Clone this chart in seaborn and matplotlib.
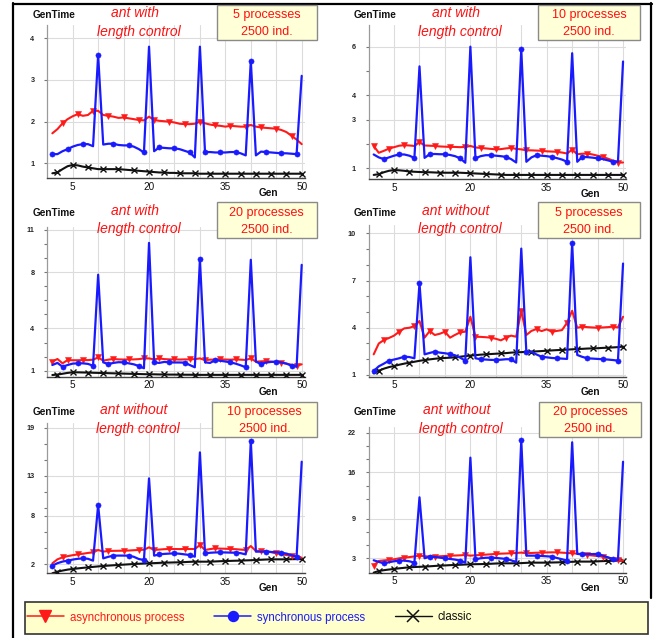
import matplotlib
matplotlib.use("Agg")
import matplotlib.pyplot as plt
import seaborn as sns
import pandas as pd
from matplotlib.lines import Line2D
from matplotlib.patches import Rectangle
from matplotlib.ticker import FixedLocator, FixedFormatter, NullFormatter

# ---------------- data ----------------
gens = list(range(1, 51))

# panel 1: ant with length control, 5 processes
async_1 = [1.72, 1.82, 1.96, 2.06, 2.13, 2.18, 2.14, 2.16, 2.26, 2.26,
           2.16, 2.14, 2.12, 2.09, 2.10, 2.08, 2.06, 2.04, 2.03, 2.12,
           2.04, 2.02, 2.01, 2.00, 1.98, 1.95, 1.94, 1.94, 1.95, 2.00,
           1.96, 1.93, 1.91, 1.90, 1.88, 1.90, 1.89, 1.88, 1.88, 1.92,
           1.88, 1.86, 1.85, 1.84, 1.83, 1.80, 1.75, 1.66, 1.57, 1.46]
sync_1 = [1.22, 1.22, 1.29, 1.34, 1.40, 1.44, 1.46, 1.46, 1.41, 3.60,
          1.45, 1.47, 1.47, 1.44, 1.43, 1.43, 1.40, 1.34, 1.26, 3.80,
          1.29, 1.38, 1.37, 1.36, 1.36, 1.34, 1.30, 1.26, 1.14, 3.80,
          1.27, 1.27, 1.26, 1.26, 1.26, 1.27, 1.27, 1.24, 1.19, 3.46,
          1.19, 1.28, 1.27, 1.26, 1.25, 1.24, 1.24, 1.23, 1.22, 3.10]
classic_1 = [0.76, 0.78, 0.86, 0.93, 0.96, 0.95, 0.92, 0.90, 0.88, 0.86,
             0.86, 0.86, 0.86, 0.86, 0.85, 0.84, 0.83, 0.82, 0.81, 0.80,
             0.79, 0.78, 0.78, 0.77, 0.77, 0.76, 0.76, 0.76, 0.76, 0.75,
             0.75, 0.75, 0.75, 0.75, 0.75, 0.75, 0.75, 0.75, 0.75, 0.75,
             0.75, 0.75, 0.75, 0.75, 0.75, 0.75, 0.75, 0.75, 0.75, 0.75]

# panel 2: ant with length control, 10 processes
async_2 = [1.92, 1.64, 1.72, 1.81, 1.87, 1.93, 1.95, 1.94, 1.92, 2.08,
           1.94, 1.93, 1.92, 1.90, 1.89, 1.88, 1.88, 1.87, 1.88, 1.92,
           1.86, 1.84, 1.82, 1.80, 1.78, 1.79, 1.82, 1.84, 1.80, 1.78,
           1.74, 1.74, 1.73, 1.72, 1.70, 1.69, 1.68, 1.65, 1.61, 1.77,
           1.58, 1.60, 1.61, 1.57, 1.52, 1.47, 1.40, 1.32, 1.24, 1.24]
sync_2 = [1.57, 1.45, 1.38, 1.45, 1.52, 1.57, 1.57, 1.52, 1.43, 5.19,
          1.43, 1.58, 1.59, 1.58, 1.58, 1.55, 1.50, 1.41, 1.23, 6.00,
          1.41, 1.50, 1.54, 1.54, 1.52, 1.50, 1.47, 1.38, 1.24, 5.89,
          1.27, 1.45, 1.54, 1.52, 1.50, 1.47, 1.42, 1.36, 1.27, 5.73,
          1.27, 1.47, 1.46, 1.44, 1.41, 1.38, 1.33, 1.27, 1.27, 5.39]
classic_2 = [0.73, 0.76, 0.84, 0.90, 0.93, 0.92, 0.90, 0.87, 0.86, 0.85,
             0.84, 0.84, 0.83, 0.82, 0.82, 0.82, 0.82, 0.82, 0.81, 0.80,
             0.79, 0.78, 0.77, 0.76, 0.75, 0.74, 0.73, 0.73, 0.73, 0.73,
             0.73, 0.73, 0.73, 0.73, 0.73, 0.73, 0.73, 0.73, 0.73, 0.73,
             0.73, 0.73, 0.73, 0.73, 0.73, 0.73, 0.73, 0.73, 0.73, 0.73]

# panel 3: ant with length control, 20 processes
async_3 = [1.64, 1.83, 1.52, 1.75, 1.74, 1.74, 1.75, 1.75, 1.78, 1.94,
           1.71, 1.78, 1.83, 1.80, 1.79, 1.80, 1.80, 1.82, 1.87, 1.87,
           1.80, 1.87, 1.82, 1.80, 1.80, 1.79, 1.80, 1.80, 1.82, 1.87,
           1.75, 1.78, 1.79, 1.80, 1.79, 1.78, 1.80, 1.78, 1.76, 1.87,
           1.64, 1.66, 1.68, 1.64, 1.60, 1.57, 1.50, 1.42, 1.35, 1.45]
sync_3 = [1.40, 1.55, 1.28, 1.40, 1.50, 1.52, 1.52, 1.48, 1.35, 7.82,
          1.59, 1.47, 1.55, 1.60, 1.59, 1.52, 1.45, 1.33, 1.17, 10.08,
          1.59, 1.55, 1.62, 1.59, 1.58, 1.58, 1.57, 1.40, 1.24, 8.90,
          1.59, 1.55, 1.75, 1.70, 1.65, 1.59, 1.50, 1.38, 1.24, 8.88,
          1.64, 1.47, 1.58, 1.62, 1.64, 1.58, 1.50, 1.35, 1.28, 8.52]
classic_3 = [0.69, 0.72, 0.78, 0.84, 0.88, 0.88, 0.87, 0.86, 0.85, 0.84,
             0.83, 0.82, 0.81, 0.80, 0.79, 0.78, 0.77, 0.76, 0.75, 0.74,
             0.74, 0.73, 0.73, 0.72, 0.72, 0.71, 0.71, 0.71, 0.70, 0.70,
             0.70, 0.70, 0.70, 0.70, 0.70, 0.70, 0.70, 0.70, 0.70, 0.70,
             0.70, 0.70, 0.70, 0.70, 0.70, 0.70, 0.70, 0.70, 0.70, 0.70]

# panel 4: ant without length control, 5 processes
async_4 = [2.31, 3.00, 3.22, 3.35, 3.50, 3.75, 3.96, 4.00, 4.10, 4.43,
           3.37, 3.79, 3.54, 3.62, 3.75, 3.37, 3.55, 3.71, 3.75, 4.70,
           3.43, 3.42, 3.40, 3.37, 3.30, 3.20, 3.37, 3.50, 3.43, 5.08,
           3.54, 3.80, 3.92, 3.79, 3.90, 3.75, 3.80, 3.85, 4.32, 5.08,
           4.00, 4.07, 4.04, 4.02, 4.00, 4.02, 4.04, 4.07, 4.02, 4.70]
sync_4 = [1.25, 1.55, 1.72, 1.91, 1.98, 2.06, 2.16, 2.14, 2.06, 6.83,
          2.31, 2.40, 2.48, 2.42, 2.38, 2.33, 2.25, 2.10, 1.91, 8.48,
          2.06, 2.00, 1.98, 1.96, 1.95, 1.97, 2.00, 2.00, 1.78, 9.03,
          2.44, 2.48, 2.30, 2.16, 2.12, 2.08, 2.06, 2.04, 2.02, 9.39,
          2.27, 2.15, 2.06, 2.04, 2.02, 2.00, 1.98, 1.95, 1.91, 8.08]
classic_4 = [1.10, 1.27, 1.40, 1.50, 1.57, 1.65, 1.72, 1.78, 1.84, 1.90,
             1.95, 1.99, 2.03, 2.06, 2.08, 2.10, 2.12, 2.16, 2.20, 2.23,
             2.26, 2.29, 2.31, 2.33, 2.35, 2.37, 2.39, 2.42, 2.44, 2.45,
             2.47, 2.48, 2.50, 2.52, 2.54, 2.56, 2.58, 2.59, 2.61, 2.63,
             2.65, 2.66, 2.68, 2.69, 2.70, 2.72, 2.73, 2.75, 2.77, 2.80]

# panel 5: ant without length control, 10 processes
async_5 = [2.08, 2.58, 2.83, 2.98, 3.10, 3.20, 3.28, 3.38, 3.45, 3.75,
           3.55, 3.62, 3.64, 3.65, 3.66, 3.68, 3.72, 3.75, 3.78, 4.08,
           3.75, 3.80, 3.85, 3.87, 3.87, 3.86, 3.87, 3.87, 3.87, 4.37,
           3.75, 3.86, 3.95, 3.92, 3.90, 3.87, 3.85, 3.80, 3.75, 4.24,
           3.62, 3.66, 3.60, 3.48, 3.33, 3.22, 3.12, 3.04, 2.92, 2.79]
sync_5 = [1.80, 2.10, 2.30, 2.42, 2.55, 2.65, 2.70, 2.65, 2.42, 9.36,
          2.70, 2.90, 3.04, 3.05, 3.05, 3.04, 2.90, 2.62, 2.50, 12.68,
          3.04, 3.20, 3.26, 3.30, 3.33, 3.28, 3.20, 3.12, 2.91, 15.92,
          3.33, 3.40, 3.44, 3.45, 3.44, 3.42, 3.41, 3.35, 3.20, 17.38,
          3.54, 3.54, 3.54, 3.50, 3.46, 3.41, 3.30, 3.10, 2.91, 14.76]
classic_5 = [0.84, 1.04, 1.18, 1.30, 1.38, 1.45, 1.52, 1.58, 1.64, 1.70,
             1.75, 1.80, 1.84, 1.88, 1.92, 1.96, 2.00, 2.03, 2.06, 2.08,
             2.11, 2.14, 2.17, 2.18, 2.20, 2.21, 2.24, 2.27, 2.29, 2.29,
             2.29, 2.29, 2.32, 2.35, 2.37, 2.39, 2.41, 2.42, 2.45, 2.47,
             2.50, 2.53, 2.56, 2.58, 2.58, 2.58, 2.58, 2.60, 2.61, 2.62]

# panel 6: ant without length control, 20 processes
async_6 = [1.90, 2.60, 2.68, 2.75, 2.85, 3.00, 3.10, 3.18, 3.28, 3.40,
           3.30, 3.28, 3.25, 3.30, 3.35, 3.40, 3.42, 3.45, 3.50, 3.40,
           3.45, 3.50, 3.55, 3.60, 3.66, 3.70, 3.73, 3.76, 3.80, 3.86,
           3.76, 3.80, 3.84, 3.86, 3.88, 3.90, 3.90, 3.85, 3.80, 3.76,
           3.70, 3.62, 3.50, 3.42, 3.34, 3.25, 3.10, 2.92, 2.75, 2.65]
sync_6 = [2.70, 2.45, 2.24, 2.40, 2.55, 2.65, 2.65, 2.55, 2.34, 12.22,
          3.00, 3.25, 3.20, 3.10, 3.00, 2.90, 2.80, 2.65, 2.34, 18.22,
          2.85, 3.00, 3.08, 3.10, 3.05, 2.98, 2.90, 2.70, 2.40, 20.89,
          3.40, 3.40, 3.40, 3.35, 3.30, 3.25, 3.05, 2.85, 2.65, 20.54,
          3.66, 3.60, 3.62, 3.64, 3.66, 3.40, 3.15, 2.90, 2.75, 17.60]
classic_6 = [0.83, 1.08, 1.20, 1.30, 1.39, 1.48, 1.56, 1.64, 1.68, 1.71,
             1.74, 1.79, 1.84, 1.89, 1.92, 1.96, 1.99, 2.02, 2.06, 2.09,
             2.11, 2.12, 2.14, 2.17, 2.21, 2.24, 2.24, 2.24, 2.24, 2.27,
             2.31, 2.34, 2.34, 2.34, 2.34, 2.36, 2.38, 2.40, 2.44, 2.47,
             2.50, 2.50, 2.50, 2.50, 2.54, 2.57, 2.60, 2.62, 2.64, 2.65]

xtick_labels = [5, 20, 35, 50]
ytick_labels = [[1, 2, 3, 4], [1, 3, 4, 6], [1, 4, 8, 11],
                [1, 4, 7, 10], [2, 8, 13, 19], [3, 9, 16, 22]]
ytick_minor = [[], [2, 5], [2, 3, 5, 6, 7, 9, 10], [2, 3, 5, 6, 8, 9],
               [4, 6, 9, 11, 15, 17], [5, 7, 12, 14, 18, 20]]
title_top = ["ant with", "ant with", "ant with",
             "ant without", "ant without", "ant without"]
title_bottom = "length control"
proc_labels = ["5 processes", "10 processes", "20 processes",
               "5 processes", "10 processes", "20 processes"]
ind_label = "2500 ind."
series_names = ["asynchronous process", "synchronous process", "classic"]

asyncs = [async_1, async_2, async_3, async_4, async_5, async_6]
syncs = [sync_1, sync_2, sync_3, sync_4, sync_5, sync_6]
classics = [classic_1, classic_2, classic_3, classic_4, classic_5, classic_6]

# ---------------- layout (pixels) ----------------
W, H = 655, 638
RED, BLUE, BLACK = "#ff1a1a", "#1a1aff", "#111111"

# (left, top, bottom, ylim_low, ylim_high)
layout = [
    (47.25, 25.0, 178.3, 0.64, 4.32),
    (368.6, 25.0, 179.3, 0.55, 6.89),
    (47.25, 226.7, 376.7, 0.57, 11.23),
    (368.6, 225.0, 376.7, 0.89, 10.53),
    (47.25, 423.3, 573.3, 0.84, 19.55),
    (368.6, 426.7, 572.7, 0.82, 22.90),
]
AX_W = 257.5
# marker offsets (async, sync, classic)
mark_off = [(2, 0, 1), (0, 2, 1), (0, 2, 1), (2, 0, 1), (2, 0, 1), (0, 2, 1)]
# info box (x0, x1, y0, y1)
boxes = [(216.7, 316.7, 5.0, 40.0), (538.3, 640.0, 5.0, 40.0),
         (216.7, 316.7, 202.3, 238.3), (538.3, 640.0, 202.3, 238.3),
         (212.3, 316.7, 401.7, 436.7), (539.3, 640.7, 401.7, 436.7)]
title_pos = [(137, 13.3, 31.7), (458, 13.3, 31.7), (137, 211, 229.3),
             (458, 211, 229.3), (135.5, 410, 429), (459, 410, 429)]
gentime_y = [15, 15, 213.3, 213.3, 412.3, 412.3]

sns.set_theme(style="white")
plt.rcParams["font.family"] = ["Liberation Sans", "DejaVu Sans"]

fig = plt.figure(figsize=(W / 100, H / 100), dpi=100)
fig.patch.set_facecolor("white")


def fx(p):
    return p / W


def fy(p):
    return 1 - p / H


for i in range(6):
    left, top, bottom, ylo, yhi = layout[i]
    ax = fig.add_axes([fx(left), fy(bottom), AX_W / W, (bottom - top) / H])
    ax.set_facecolor("white")
    oa, osy, oc = mark_off[i]

    sns.lineplot(x=gens, y=classics[i], ax=ax, color=BLACK, lw=1.5,
                 marker="x", ms=4.0, markevery=(oc, 3), mec=BLACK, mew=1.0,
                 estimator=None, legend=False, zorder=3)
    sns.lineplot(x=gens, y=asyncs[i], ax=ax, color=RED, lw=1.5,
                 marker="v", ms=4.0, markevery=(oa, 3), mec=RED, mfc=RED,
                 mew=0.4, estimator=None, legend=False, zorder=4)
    sns.lineplot(x=gens, y=syncs[i], ax=ax, color=BLUE, lw=1.6,
                 marker="o", ms=3.7, markevery=(osy, 3), mec=BLUE, mfc=BLUE,
                 mew=0.4, estimator=None, legend=False, zorder=5)

    ax.set_xlim(0, 50.6)
    ax.set_ylim(ylo, yhi)
    ax.set_xlabel("")
    ax.set_ylabel("")

    ax.xaxis.set_major_locator(FixedLocator(xtick_labels))
    ax.xaxis.set_major_formatter(FixedFormatter([str(v) for v in xtick_labels]))
    ax.xaxis.set_minor_locator(FixedLocator([10, 15, 25, 30, 40, 45]))
    ax.yaxis.set_major_locator(FixedLocator(ytick_labels[i]))
    ax.yaxis.set_major_formatter(FixedFormatter([str(v) for v in ytick_labels[i]]))
    ax.yaxis.set_minor_locator(FixedLocator(ytick_minor[i]))
    ax.yaxis.set_minor_formatter(NullFormatter())

    ax.xaxis.grid(True, which="both", color="#dcdcdc", lw=0.8)
    ax.yaxis.grid(True, which="major", color="#dcdcdc", lw=0.8)
    ax.set_axisbelow(True)

    ax.tick_params(axis="x", which="both", bottom=False, length=0,
                   labelsize=7.2, pad=2.5, colors="#111111")
    ax.tick_params(axis="y", which="both", left=True, length=2.2, width=0.8,
                   color="#777777", pad=7, labelsize=5.2)
    for lab in ax.get_yticklabels():
        lab.set_fontweight("bold")

    for s in ["top", "right"]:
        ax.spines[s].set_visible(False)
    ax.spines["left"].set_color("#9a9a9a")
    ax.spines["left"].set_linewidth(0.9)
    ax.spines["bottom"].set_color("#444444")
    ax.spines["bottom"].set_linewidth(1.0)

    # axis labels
    fig.text(fx(left - 15), fy(gentime_y[i]), "GenTime", fontsize=7.2,
             fontweight="bold", ha="left", va="center", color="#111111")
    fig.text(fx(left + AX_W - 36), fy(bottom + 15), "Gen", fontsize=7.2,
             fontweight="bold", ha="center", va="center", color="#111111")

    # titles
    tx, ty1, ty2 = title_pos[i]
    fig.text(fx(tx - 2), fy(ty1), title_top[i], fontsize=10, style="italic",
             color="#ff1010", ha="center", va="center")
    fig.text(fx(tx + 2), fy(ty2), title_bottom, fontsize=10, style="italic",
             color="#ff1010", ha="center", va="center")

    # info box
    x0, x1, y0, y1 = boxes[i]
    fig.patches.append(Rectangle((fx(x0), fy(y1)), (x1 - x0) / W, (y1 - y0) / H,
                                 transform=fig.transFigure, facecolor="#ffffd8",
                                 edgecolor="#8a8a8a", lw=1.0, zorder=6))
    cx = (x0 + x1) / 2
    fig.text(fx(cx), fy(y0 + 10.3), proc_labels[i], fontsize=9, color="#ff1010",
             ha="center", va="center", zorder=7)
    fig.text(fx(cx), fy(y0 + 27.3), ind_label, fontsize=9, color="#ff1010",
             ha="center", va="center", zorder=7)

# legend box
fig.patches.append(Rectangle((fx(25), fy(634)), 623 / W, 32.3 / H,
                             transform=fig.transFigure, facecolor="#ffffcc",
                             edgecolor="#333333", lw=1.2, zorder=1))
handles = [
    Line2D([], [], color=RED, lw=1.1, marker="v", ms=8, mfc=RED, mec=RED),
    Line2D([], [], color=BLUE, lw=1.1, marker="o", ms=7.2, mfc=BLUE, mec=BLUE),
    Line2D([], [], color=BLACK, lw=1.0, marker="x", ms=8.5, mec=BLACK, mew=1.1),
]
leg = fig.legend(handles, series_names, loc="center left",
                 bbox_to_anchor=(fx(27), fy(617.5)), ncol=3, frameon=False,
                 fontsize=8.3, handlelength=3.2, handletextpad=0.5,
                 columnspacing=2.6, borderpad=0, borderaxespad=0,
                 labelcolor="linecolor", numpoints=1)
leg.set_zorder(8)

# outer frame
fig.lines.append(Line2D([fx(13), fx(13)], [fy(3), fy(638)], color="black",
                        lw=1.6, transform=fig.transFigure))
fig.lines.append(Line2D([fx(13), fx(652)], [fy(3.5), fy(3.5)], color="black",
                        lw=1.6, transform=fig.transFigure))
fig.lines.append(Line2D([fx(651), fx(651)], [fy(3), fy(598)], color="black",
                        lw=1.6, transform=fig.transFigure))

fig.savefig("out.png", dpi=100, facecolor="white")
